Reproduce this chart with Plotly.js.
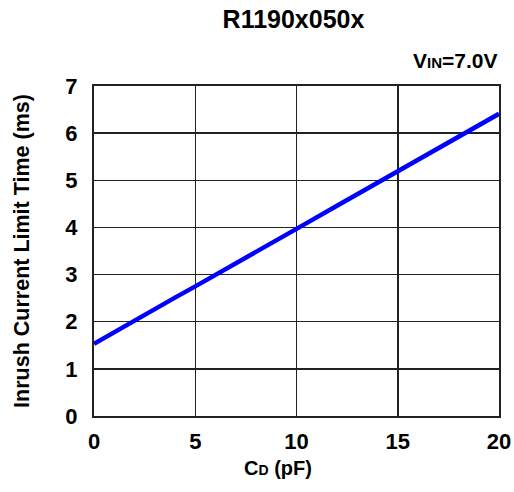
<!DOCTYPE html>
<html>
<head>
<meta charset="utf-8">
<script src="https://cdn.plot.ly/plotly-3.0.1.min.js"></script>
<style>html,body{margin:0;padding:0;background:#fff;}#chart{width:514px;height:492px;}</style>
</head>
<body>
<div id="chart"></div>
<script>
const capacitance = [0, 1, 2, 3, 4, 5, 6, 8, 10, 12, 14, 15, 16, 18, 20];
const inrushTime = [1.53, 1.78, 2.02, 2.27, 2.51, 2.75, 2.99, 3.48, 3.97, 4.46, 4.95, 5.19, 5.43, 5.92, 6.41];
const xTicks = [0, 5, 10, 15, 20];
const yTicks = [0, 1, 2, 3, 4, 5, 6, 7];

const font = 'Liberation Sans, Arial, sans-serif';
const data = [{
  x: capacitance, y: inrushTime, type: 'scatter', mode: 'lines',
  line: {color: '#0000ff', width: 4.5}, hoverinfo: 'skip'
}];
const axisCommon = {
  showline: true, mirror: true, linecolor: '#222', linewidth: 2,
  showgrid: true, gridcolor: '#222', gridwidth: 1.5, zeroline: false,
  ticks: '', tickfont: {family: font, size: 22, color: '#000', weight: 'bold'}
};
const layout = {
  width: 514, height: 492,
  margin: {l: 94, r: 15, t: 86, b: 76},
  paper_bgcolor: '#fff', plot_bgcolor: '#fff',
  showlegend: false,
  title: {text: '<b>R1190x050x</b>', font: {family: font, size: 25, color: '#000'}, x: 0.571, xanchor: 'center', y: 0.96, yanchor: 'middle'},
  xaxis: Object.assign({}, axisCommon, {
    range: [0, 20], tickvals: xTicks, ticktext: xTicks.map(String), ticklabelstandoff: 5
  }),
  yaxis: Object.assign({}, axisCommon, {
    range: [0, 7], tickvals: yTicks, ticktext: yTicks.map(String), ticklabelstandoff: 10,
    title: {text: 'Inrush Current Limit Time (ms)', font: {family: font, size: 21.5, color: '#000', weight: 'bold'}, standoff: 30}
  }),
  annotations: [{
    text: 'V<span style="font-size:15px">IN</span>=7.0V', xref: 'paper', yref: 'paper',
    x: 1, y: 1.035, xanchor: 'right', yanchor: 'bottom', showarrow: false,
    font: {family: font, size: 21, color: '#000', weight: 'bold'}
  }, {
    text: 'C<span style="font-size:14px">D</span> (pF)', xref: 'paper', yref: 'paper',
    x: 0.454, y: -0.158, xanchor: 'center', yanchor: 'middle', showarrow: false,
    font: {family: font, size: 20, color: '#000', weight: 'bold'}
  }]
};
Plotly.newPlot('chart', data, layout, {staticPlot: true, displayModeBar: false});
</script>
</body>
</html>
